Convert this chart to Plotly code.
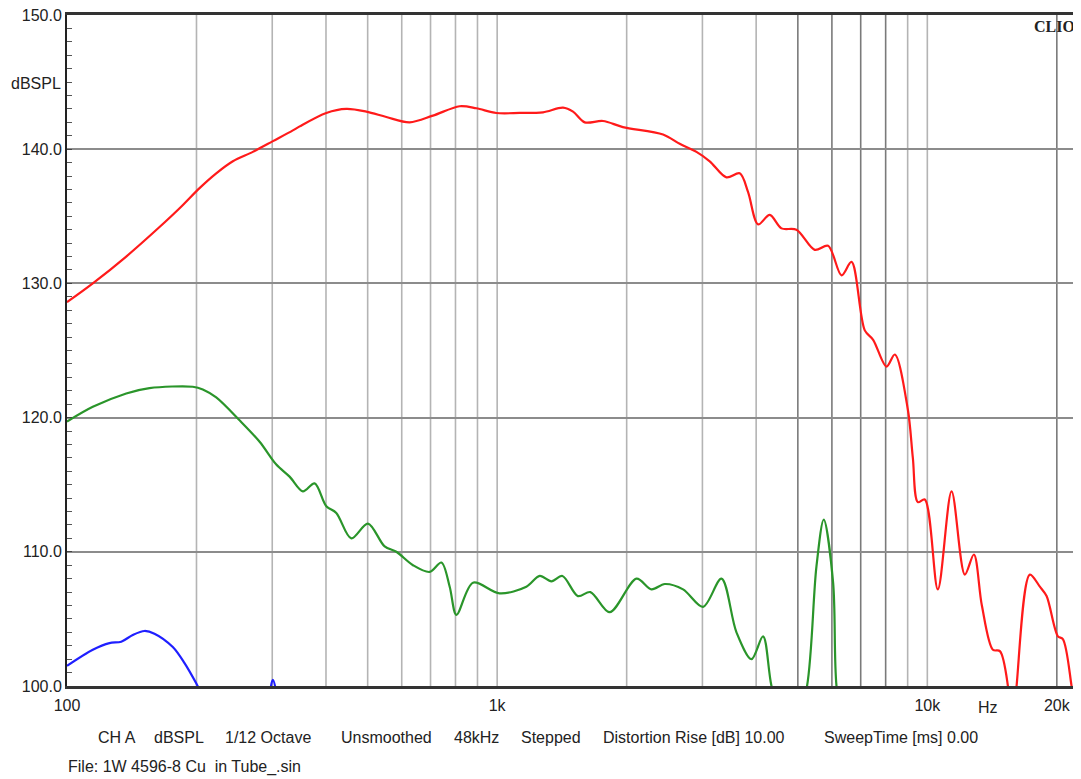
import math
import plotly.graph_objects as go

# ---------------- data ----------------
red_freq = [100, 114.8, 137.3, 164.1, 182.7, 203.3, 222.3, 243.0, 270.4, 301.1, 335.0, 347.4,
            400.7, 446.0, 496.4, 552.5, 625.8, 709.0, 818.2, 894.6, 995.7, 1128, 1278, 1422,
            1501, 1598, 1762, 1960, 2430, 2657, 2906, 3120, 3412, 3664, 3831, 4042, 4302,
            4580, 4963, 5474, 5879, 6318, 6664, 7155, 7482, 8037, 8404, 9009, 9254, 9505,
            9867, 10578, 11385, 12224, 12830, 13390, 14203, 14746, 15392, 15725, 16124,
            17315, 18265, 18932, 20115, 20659, 21640, 22400]
red_db = [128.6, 130.0, 132.0, 134.2, 135.6, 137.1, 138.2, 139.1, 139.8, 140.6, 141.4, 141.7,
          142.7, 143.0, 142.8, 142.4, 142.0, 142.5, 143.2, 143.05, 142.7, 142.7, 142.75, 143.1,
          142.8, 142.0, 142.1, 141.65, 141.1, 140.4, 139.8, 139.1, 137.9, 138.2, 136.8, 134.4,
          135.1, 134.1, 134.0, 132.5, 132.8, 130.6, 131.6, 126.5, 125.8, 123.8, 124.7, 120.6,
          117.0, 113.7, 113.9, 107.2, 114.5, 108.3, 109.8, 106.0, 102.7, 102.6, 100.0, 95.0,
          100.0, 108.3, 107.4, 106.7, 103.7, 103.5, 100.0, 96.0]

green_freq = [100, 114.8, 137.3, 155.5, 196.1, 206.9, 222.3, 251.8, 280.4, 306.6, 329.2, 353.4,
              376.3, 400.7, 422.7, 458.1, 500.6, 547.5, 582.9, 637.3, 696.7, 741.9, 775.6, 804.0,
              878.6, 1013, 1169, 1256, 1337, 1418, 1541, 1647, 1826, 2108, 2284, 2452, 2705,
              3010, 3322, 3600, 3901, 4150, 4342, 4786, 5253, 5523, 5744, 6039, 6149, 6500]
green_db = [119.7, 120.8, 121.8, 122.2, 122.3, 122.1, 121.5, 119.8, 118.2, 116.5, 115.6, 114.5,
            115.1, 113.4, 112.9, 111.0, 112.1, 110.4, 110.0, 109.0, 108.5, 109.2, 107.4, 105.3,
            107.7, 106.9, 107.4, 108.2, 107.8, 108.2, 106.7, 107.0, 105.5, 108.0, 107.2, 107.6,
            107.2, 105.9, 108.0, 104.0, 102.0, 103.7, 100.0, 95.0, 100.0, 108.9, 112.4, 107.7,
            100.0, 95.0]

blue_freq = [100, 114.8, 125.5, 133.7, 142.2, 151.4, 159.7, 176.2, 187.6, 199.7, 208.8, 240,
             290, 301, 312, 340]
blue_db = [101.5, 102.7, 103.2, 103.3, 103.8, 104.1, 103.9, 102.9, 101.7, 100.2, 99.0, 96.0,
           98.5, 100.45, 98.5, 96.0]

x_tick_vals = [100, 1000, 10000, 20000]
x_tick_text = ["100", "1k", "10k", "20k"]
y_tick_vals = [100, 110, 120, 130, 140, 150]
y_tick_text = ["100.0", "110.0", "120.0", "130.0", "140.0", "150.0"]
grid_freqs = [200, 300, 400, 500, 600, 700, 800, 900, 1000,
              2000, 3000, 4000, 5000, 6000, 7000, 8000, 9000, 10000, 20000]
dark_grid_freqs = [5000, 6000, 7000, 8000, 20000]

footer_items = ["CH A", "dBSPL", "1/12 Octave", "Unsmoothed", "48kHz", "Stepped",
                "Distortion Rise [dB] 10.00", "SweepTime [ms] 0.00"]
footer_x = [96, 152, 223, 339, 452, 519, 601, 822]
file_text = "File: 1W 4596-8 Cu  in Tube_.sin"

# ---------------- figure ----------------
# the page body has an 8px margin; the figure is sized so it fills the window exactly
OFF = 8
WIN_W, WIN_H = 1081, 779
W, H = WIN_W - OFF, WIN_H - OFF
# plot area in window pixels
L, R, T, B = 67, 1078, 15, 686
FONT = "Liberation Sans, Arial, sans-serif"


def px(xp):
    return (xp - L) / (R - L)


def py(yp):
    return (B - yp) / (B - T)


fig = go.Figure()
for f, d, c in [(blue_freq, blue_db, "#1f1fff"),
                (green_freq, green_db, "#2a952a"),
                (red_freq, red_db, "#ff1a1a")]:
    fig.add_trace(go.Scatter(x=f, y=d, mode="lines",
                             line=dict(color=c, width=2.2, shape="spline", smoothing=0.9),
                             hoverinfo="skip", showlegend=False))

shapes = []
for g in grid_freqs:
    col = "#7a7a7a" if g in dark_grid_freqs else "#b4b4b4"
    shapes.append(dict(type="line", xref="x", yref="paper", x0=g, x1=g, y0=0, y1=1,
                       line=dict(color=col, width=1.6), layer="below"))

annotations = [
    dict(text="dBSPL", x=px(63), y=py(83), xref="paper", yref="paper", xanchor="right",
         yanchor="middle", showarrow=False, font=dict(family=FONT, size=16, color="#222")),
    dict(text="Hz", x=px(988), y=py(707), xref="paper", yref="paper", xanchor="center",
         yanchor="middle", showarrow=False, font=dict(family=FONT, size=16, color="#222")),
    dict(text="<b>CLIO</b>", x=px(1077), y=py(26), xref="paper", yref="paper", xanchor="right",
         yanchor="middle", showarrow=False,
         font=dict(family="Liberation Serif, Times New Roman, serif", size=16, color="#222")),
    dict(text=file_text, x=px(66), y=py(767), xref="paper", yref="paper", xanchor="left",
         yanchor="middle", showarrow=False, font=dict(family=FONT, size=16, color="#222")),
]
for t, xp in zip(footer_items, footer_x):
    annotations.append(dict(text=t, x=px(xp), y=py(737), xref="paper", yref="paper",
                            xanchor="left", yanchor="middle", showarrow=False,
                            font=dict(family=FONT, size=16, color="#222")))

fig.update_layout(
    width=W, height=H, autosize=False,
    margin=dict(l=L - OFF, r=W - (R - OFF), t=T - OFF, b=H - (B - OFF), pad=0),
    paper_bgcolor="white", plot_bgcolor="white",
    shapes=shapes, annotations=annotations,
    xaxis=dict(type="log", range=[2, math.log10(22400)], tickvals=x_tick_vals,
               ticktext=x_tick_text, showgrid=False, zeroline=False, showline=True,
               linecolor="#333", linewidth=2.5, mirror=True, ticks="",
               ticklabelstandoff=3, ticklabeloverflow="allow", automargin=False,
               tickfont=dict(family=FONT, size=16, color="#222")),
    yaxis=dict(range=[100, 150], tickvals=y_tick_vals, ticktext=y_tick_text,
               showgrid=True, gridcolor="#8c8c8c", gridwidth=1.5, zeroline=False,
               showline=True, linecolor="#222", linewidth=2, mirror="allticks",
               ticks="inside", ticklen=5, tickcolor="#444", ticklabeloverflow="allow",
               automargin=False,
               minor=dict(dtick=1, ticks="inside", ticklen=5, tickcolor="#555",
                          showgrid=False),
               tickfont=dict(family=FONT, size=16, color="#222")),
)

fig.write_html("out.html")
